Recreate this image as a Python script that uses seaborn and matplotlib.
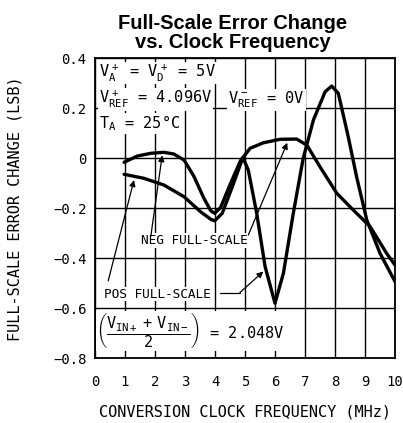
import matplotlib
matplotlib.use('Agg')
import numpy as np
import pandas as pd
import seaborn as sns
import matplotlib.pyplot as plt

# values
neg_x = [0.97, 1.41, 1.86, 2.3, 2.63, 2.97, 3.3, 3.63, 3.86, 3.99, 4.19, 4.52, 4.86, 4.95,
         5.17, 5.61, 6.17, 6.72, 7.06, 7.5, 8.06, 8.61, 9.17, 9.72, 10.0]
neg_y = [-0.016, 0.009, 0.02, 0.024, 0.017, -0.007, -0.073, -0.16, -0.21, -0.22, -0.196, -0.1,
         -0.007, 0.006, 0.04, 0.062, 0.076, 0.077, 0.053, -0.034, -0.14, -0.207, -0.273, -0.38, -0.427]
pos_x = [0.97, 1.63, 2.3, 2.97, 3.52, 3.86, 3.99, 4.24, 4.58, 4.93, 5.11, 5.39, 5.67, 6.0,
         6.28, 6.61, 6.94, 7.28, 7.67, 7.89, 8.11, 8.44, 8.72, 9.06, 9.5, 10.0]
pos_y = [-0.064, -0.08, -0.107, -0.154, -0.214, -0.244, -0.25, -0.22, -0.113, 0.003, -0.047,
         -0.22, -0.433, -0.58, -0.46, -0.22, 0.0, 0.153, 0.266, 0.289, 0.26, 0.087, -0.074,
         -0.247, -0.38, -0.493]

x_ticks = list(range(0, 11))
y_ticks = [-0.8, -0.6, -0.4, -0.2, 0, 0.2, 0.4]
y_tick_labels = ['\u22120.8', '\u22120.6', '\u22120.4', '\u22120.2', '0', '0.2', '0.4']

frame = pd.concat([
    pd.DataFrame({'freq': neg_x, 'err': neg_y, 'curve': 'NEG FULL-SCALE'}),
    pd.DataFrame({'freq': pos_x, 'err': pos_y, 'curve': 'POS FULL-SCALE'}),
])

sns.set_style('white')
plt.rcParams['font.family'] = ['DejaVu Sans Mono', 'DejaVu Sans']
plt.rcParams['text.color'] = 'black'
plt.rcParams['axes.labelcolor'] = 'black'
plt.rcParams['mathtext.fontset'] = 'custom'
plt.rcParams['mathtext.rm'] = 'DejaVu Sans Mono'
plt.rcParams['mathtext.it'] = 'DejaVu Sans Mono'
plt.rcParams['mathtext.bf'] = 'DejaVu Sans Mono:bold'

fig = plt.figure(figsize=(4.03, 4.23), dpi=100)
ax = fig.add_axes([95 / 403, 1 - 358.3 / 423, 300 / 403, 300 / 423])

sns.lineplot(data=frame, x='freq', y='err', units='curve', estimator=None,
             color='black', linewidth=2.4, ax=ax, zorder=3)

ax.set_xlim(0, 10)
ax.set_ylim(-0.8, 0.4)
ax.set_xticks(x_ticks)
ax.set_yticks(y_ticks)
ax.set_yticklabels(y_tick_labels)
ax.grid(True, color='black', linewidth=1.0)
ax.set_axisbelow(True)
for s in ax.spines.values():
    s.set_color('black')
    s.set_linewidth(1.3)
ax.tick_params(axis='both', length=0, labelsize=10, colors='black')
ax.tick_params(axis='x', pad=12)
ax.tick_params(axis='y', pad=6)

ax.set_xlabel('CONVERSION CLOCK FREQUENCY (MHz)', fontsize=11, labelpad=11)
ax.set_ylabel('FULL-SCALE ERROR CHANGE (LSB)', fontsize=11, labelpad=22)

fig.text(0.578, 0.966, 'Full-Scale Error Change\nvs. Clock Frequency', ha='center', va='top',
         fontsize=14.5, fontweight='bold', family='Liberation Sans', linespacing=0.95,
         color='black')

box = dict(fc='white', ec='none', pad=0.6)
ax.text(0.14, 0.325, r'$\mathrm{V_A^{\ +}}$ = $\mathrm{V_D^{\ +}}$ = 5V', fontsize=11,
        va='baseline', bbox=box, zorder=4)
ax.text(0.14, 0.22, r'$\mathrm{V_{REF}^{\ +}}$ = 4.096V', fontsize=11, va='baseline', bbox=box, zorder=4)
ax.text(4.44, 0.22, r'$\mathrm{V_{REF}^{\ -}}$ = 0V', fontsize=11, va='baseline', bbox=box, zorder=4)
ax.text(0.14, 0.12, r'$\mathrm{T_A}$ = 25' + '\u00b0C', fontsize=11,
        va='baseline', bbox=box, zorder=4)
ax.text(0.05, -0.69, r'$\left(\dfrac{\mathrm{V_{IN+}\ +\ V_{IN-}}}{\mathrm{2}}\right)$ = 2.048V',
        fontsize=11, va='center', bbox=box, zorder=4)

arrow = dict(arrowstyle='-|>', color='black', lw=0.9, mutation_scale=9, shrinkA=0, shrinkB=0)
ax.text(3.3, -0.33, 'NEG FULL-SCALE', fontsize=9.2, ha='center', va='center', bbox=box, zorder=4)
ax.annotate('', xy=(2.24, 0.012), xytext=(1.86, -0.312), arrowprops=arrow, zorder=4)
ax.annotate('', xy=(6.41, 0.062), xytext=(5.11, -0.307), arrowprops=arrow, zorder=4)

ax.text(2.07, -0.543, 'POS FULL-SCALE', fontsize=9.2, ha='center', va='center', bbox=box, zorder=4)
ax.annotate('', xy=(1.3, -0.087), xytext=(0.44, -0.49), arrowprops=arrow, zorder=4)
ax.plot([4.17, 4.83], [-0.537, -0.537], color='black', lw=0.9, zorder=4)
ax.annotate('', xy=(5.61, -0.453), xytext=(4.83, -0.537), arrowprops=arrow, zorder=4)

fig.savefig('out.png', dpi=100)
